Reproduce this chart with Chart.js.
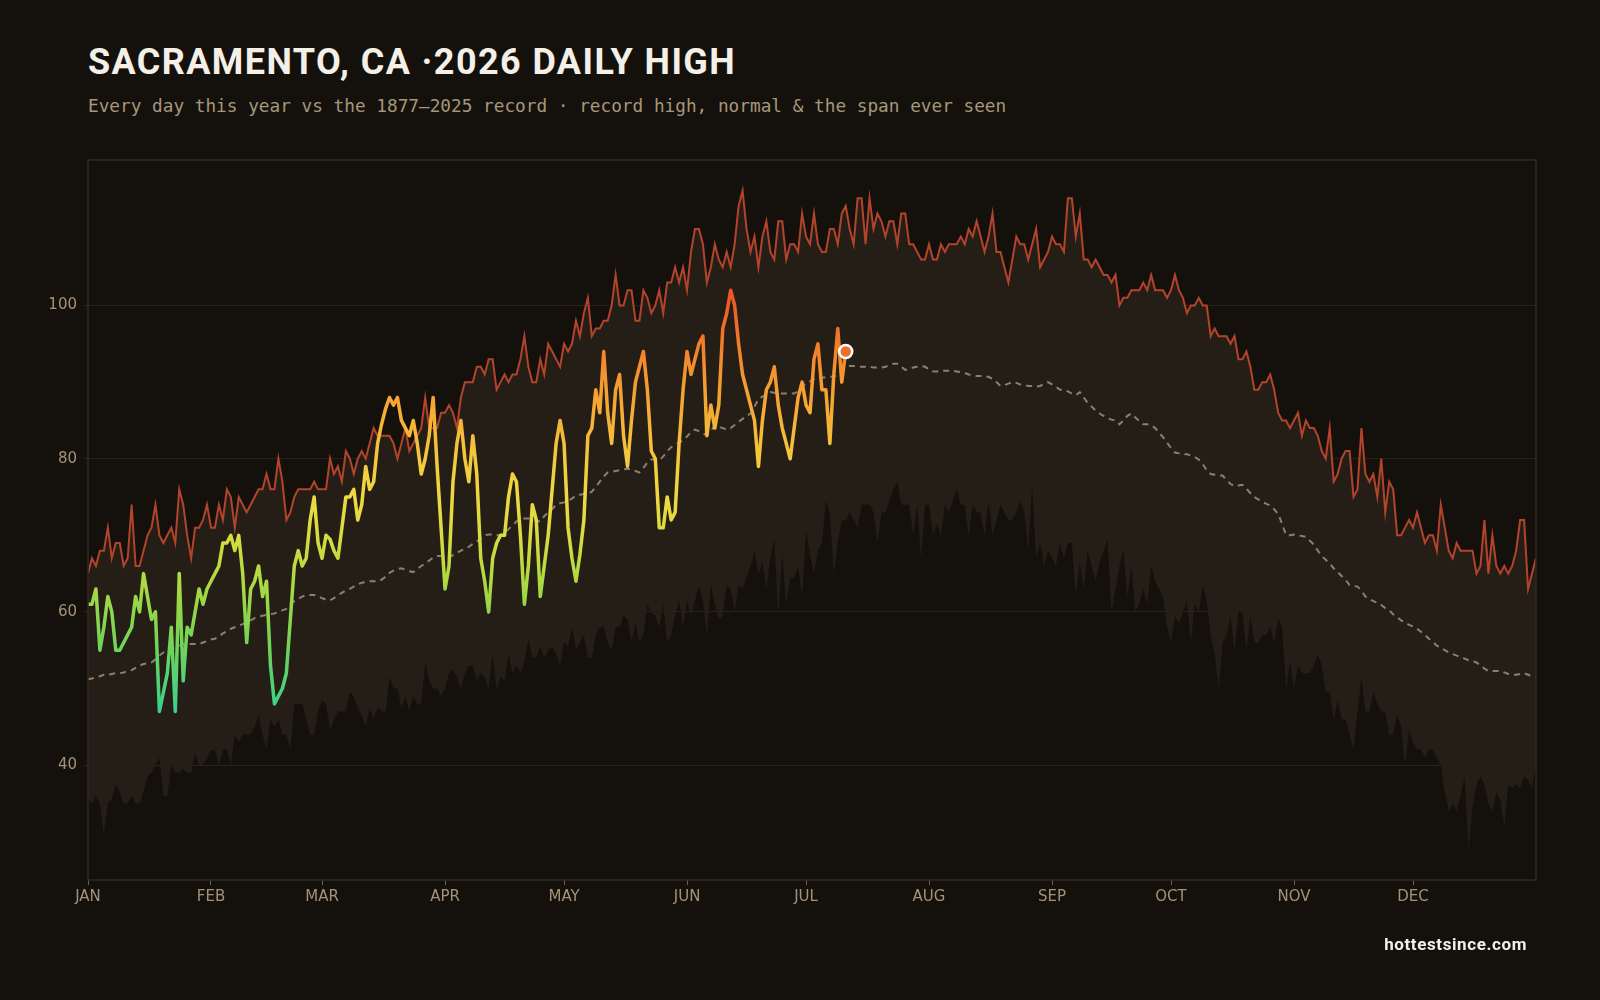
<!DOCTYPE html>
<html>
<head>
<meta charset="utf-8">
<title>Sacramento, CA 2026 daily high</title>
<script src="https://cdn.jsdelivr.net/npm/chart.js@4.4.1/dist/chart.umd.min.js"></script>
<style>
  html, body { margin: 0; padding: 0; background: #14110d; }
  body { width: 1600px; height: 1000px; position: relative; overflow: hidden; }
  #chart { position: absolute; left: 0; top: 0; }
  .title { position: absolute; left: 88px; top: 40px; font: 700 36px Roboto, sans-serif; line-height: 44px;
           letter-spacing: 1.4px; color: #f4f0e8; white-space: nowrap; }
  .sub { position: absolute; left: 88px; top: 96px; font: 17.74px "DejaVu Sans Mono", monospace; line-height: 20px;
         color: #a7977a; white-space: nowrap; }
  .foot { position: absolute; right: 73px; top: 934px; font: 700 17px Roboto, sans-serif; line-height: 20px;
          letter-spacing: 0.6px; color: #f4f0e8; }
</style>
</head>
<body>
<div class="title">SACRAMENTO, CA ·2026 DAILY HIGH</div>
<div class="sub">Every day this year vs the 1877–2025 record · record high, normal &amp; the span ever seen</div>
<canvas id="chart" width="1600" height="1000"></canvas>
<div class="foot">hottestsince.com</div>

<script>
// mois (jour de l'année du 1er)
var monthLabels = ['JAN', 'FEB', 'MAR', 'APR', 'MAY', 'JUN', 'JUL', 'AUG', 'SEP', 'OCT', 'NOV', 'DEC'];
var monthStarts = [0, 31, 59, 90, 120, 151, 181, 212, 243, 273, 304, 334];
var yTicks = [40, 60, 80, 100];

// record high, 1877-2025 (°F), day 0 = Jan 1
var recordHigh = [
  65, 67, 66, 68, 68, 71, 67, 69, 69, 66,
  67, 74, 66, 66, 68, 70, 71, 74, 70, 69,
  70, 71, 69, 76, 74, 70, 67, 71, 71, 72,
  74, 71, 71, 74, 72, 76, 75, 71, 75, 74,
  73, 74, 75, 76, 76, 78, 76, 76, 80, 77,
  72, 73, 75, 76, 76, 76, 76, 77, 76, 76,
  76, 80, 78, 79, 77, 81, 80, 78, 80, 81,
  80, 82, 84, 83, 83, 83, 83, 82, 80, 82,
  84, 81, 82, 83, 84, 88, 84, 84, 84, 86,
  86, 87, 86, 84, 88, 90, 90, 90, 92, 92,
  91, 93, 93, 89, 90, 91, 90, 91, 91, 93,
  96, 92, 90, 90, 93, 91, 95, 94, 93, 92,
  95, 94, 95, 98, 96, 99, 101, 96, 97, 97,
  98, 98, 100, 104, 100, 100, 102, 102, 98, 98,
  102, 101, 99, 100, 102, 99, 103, 103, 105, 103,
  105, 102, 107, 110, 110, 108, 103, 105, 108, 106,
  105, 107, 105, 108, 113, 115, 110, 107, 109, 105,
  109, 111, 107, 106, 111, 111, 106, 108, 108, 107,
  112, 109, 108, 112, 108, 107, 107, 110, 110, 108,
  112, 113, 110, 108, 114, 114, 108, 114, 110, 112,
  111, 109, 111, 111, 108, 112, 112, 108, 108, 107,
  106, 106, 108, 106, 106, 108, 107, 108, 108, 108,
  109, 108, 110, 109, 111, 109, 107, 109, 112, 107,
  107, 105, 103, 106, 109, 108, 108, 106, 108, 110,
  105, 106, 107, 109, 108, 108, 107, 114, 114, 109,
  112, 106, 106, 105, 106, 105, 104, 104, 103, 104,
  100, 101, 101, 102, 102, 102, 103, 102, 104, 102,
  102, 102, 101, 102, 104, 102, 101, 99, 100, 100,
  101, 100, 100, 96, 97, 96, 96, 96, 95, 96,
  93, 93, 94, 92, 89, 89, 90, 90, 91, 89,
  86, 85, 85, 84, 85, 86, 83, 85, 84, 84,
  83, 81, 80, 84, 77, 78, 80, 81, 81, 75,
  76, 84, 78, 77, 78, 75, 80, 73, 77, 76,
  70, 70, 71, 72, 71, 73, 71, 69, 70, 70,
  68, 74, 71, 68, 67, 69, 68, 68, 68, 68,
  65, 66, 72, 65, 70, 66, 65, 66, 65, 66,
  68, 72, 72, 63, 65, 67
];

// record low of the daily high
var recordLow = [
  35.5, 35, 36, 35, 31, 35, 35.5, 37.5, 36.5, 35,
  35, 36, 35, 35, 36.5, 38.5, 39, 40, 41, 36,
  36, 40, 39, 39, 39.5, 39, 39, 41.5, 40, 40,
  41, 42, 42, 40, 42, 42, 40, 44, 43, 44,
  44, 44, 45, 46.5, 44, 42, 46, 45, 46, 44,
  44, 42, 48, 48, 48, 46, 44, 44, 47, 48.5,
  48, 44.5, 46, 47, 47, 47, 49.5, 49, 47.5, 46.5,
  45, 47.5, 46, 47.5, 47, 47, 51.5, 50, 50, 47.5,
  49, 47, 49, 48, 48, 53.5, 51, 50, 50, 49,
  50, 52, 52.5, 51.5, 50, 52, 53, 53, 51, 52,
  51.5, 50, 54.5, 50, 51.5, 51, 54.5, 52, 53, 52,
  53.5, 56.5, 54, 54, 55.5, 54, 55, 55.5, 54.5, 53,
  56, 55.5, 58, 55, 56, 57, 54, 54, 57, 58,
  58, 56, 55, 58, 58, 59.5, 59, 56, 58.5, 56,
  57, 61, 60, 59.5, 58, 61, 56, 57, 59.5, 61.5,
  58, 61.5, 59.5, 61.5, 63.5, 61.5, 57, 63.5, 61, 59,
  59.5, 63.5, 63, 60, 63.5, 63, 64.5, 66, 68, 65,
  66.5, 63, 67, 69.5, 59.5, 67.5, 61, 64.5, 64.5, 66,
  62, 70.5, 67.5, 65, 68, 69, 74.5, 73, 65, 69,
  72, 72, 73, 72, 71, 74, 74, 74, 73, 69,
  73, 73, 74.5, 76, 77, 74, 74, 74, 70, 74,
  67, 74, 74, 70, 71.5, 70, 74, 73, 74.5, 76,
  74, 74, 70, 74, 73, 73, 70, 74.5, 70, 72,
  74, 73, 72, 72, 73, 74.5, 73, 68, 76.5, 67,
  69, 66, 68, 67, 66, 69, 67, 69, 69, 62,
  66.5, 63, 68, 66, 64, 66.5, 68, 69.5, 60, 63,
  66, 68, 62, 66, 60, 61, 63, 61, 66, 64,
  63, 62, 58, 56, 59.5, 58.5, 60, 61.5, 56, 61,
  60, 63.5, 61.5, 57, 54.5, 50, 56, 57, 59.5, 55,
  60, 60, 55, 59.5, 56, 56, 57, 57, 58, 56,
  59, 58, 50, 53.5, 50, 53, 52, 52, 52, 53,
  54.5, 53, 49.5, 49.5, 46, 48.5, 46, 46, 44, 42,
  47, 51.5, 47, 47, 49.5, 48, 47, 47, 44, 44,
  46.5, 45, 40, 44.5, 43, 42, 42, 41, 42, 42,
  41, 40, 36.5, 34, 35, 34, 36, 38.5, 29, 34.5,
  37.5, 38.5, 37.5, 35, 34, 36.5, 35.5, 32, 37.5, 37,
  37.5, 37, 38.5, 38, 37, 40
];

// normal daily high
var normalHigh = [
  51.2, 51.3, 51.5, 51.6, 51.8, 51.8, 51.9, 52.0, 52.0, 52.1,
  52.3, 52.4, 52.7, 53.0, 53.2, 53.3, 53.4, 53.8, 54.3, 54.7,
  54.9, 55.2, 55.4, 55.6, 55.8, 55.8, 55.8, 55.8, 55.8, 56.0,
  56.2, 56.4, 56.5, 56.8, 57.2, 57.5, 57.8, 58.0, 58.2, 58.4,
  58.6, 58.9, 59.2, 59.4, 59.5, 59.6, 59.7, 59.8, 60.0, 60.2,
  60.4, 61.0, 61.4, 61.7, 62.0, 62.2, 62.2, 62.2, 62.0, 61.8,
  61.6, 61.5, 61.8, 62.2, 62.5, 62.8, 63.0, 63.3, 63.6, 63.8,
  63.9, 64.0, 64.0, 64.0, 64.2, 64.6, 65.1, 65.4, 65.6, 65.7,
  65.5, 65.3, 65.2, 65.6, 66.0, 66.3, 66.7, 67.1, 67.3, 67.3,
  67.2, 67.2, 67.4, 67.7, 68.0, 68.2, 68.5, 68.9, 69.2, 69.6,
  70.0, 70.1, 70.1, 70.0, 70.0, 70.4, 70.8, 71.3, 71.8, 72.2,
  72.2, 72.2, 72.1, 71.9, 71.8, 72.5, 73.0, 73.4, 74.0, 74.2,
  74.3, 74.5, 74.8, 75.2, 75.3, 75.4, 75.4, 75.7, 76.3, 77.0,
  77.7, 78.2, 78.3, 78.4, 78.5, 78.6, 78.7, 78.6, 78.4, 78.2,
  78.8, 79.5, 79.9, 79.9, 79.8, 80.3, 81.0, 81.5, 81.8, 82.1,
  82.4, 82.9, 83.5, 83.8, 83.6, 83.3, 83.1, 83.6, 84.4, 84.2,
  84.0, 83.8, 84.0, 84.4, 84.8, 85.2, 85.6, 85.9, 86.8, 87.8,
  88.1, 88.4, 88.7, 88.6, 88.5, 88.5, 88.5, 88.5, 88.5, 88.8,
  89.4, 89.9, 90.1, 90.4, 90.6, 90.6, 90.6, 90.7, 90.7, 91.0,
  91.5, 91.8, 92.1, 92.1, 92.0, 92.0, 92.0, 92.0, 91.9, 91.9,
  91.9, 92.0, 92.2, 92.4, 92.4, 92.0, 91.6, 91.7, 91.9, 92.0,
  92.1, 92.0, 91.7, 91.4, 91.4, 91.5, 91.5, 91.5, 91.5, 91.4,
  91.3, 91.2, 91.0, 90.9, 90.8, 90.8, 90.7, 90.7, 90.4, 90.0,
  89.5, 89.6, 89.8, 90.0, 89.9, 89.7, 89.6, 89.5, 89.5, 89.4,
  89.5, 89.8, 90.0, 89.7, 89.4, 89.0, 89.0, 88.8, 88.5, 88.3,
  88.7, 88.0, 87.3, 86.8, 86.3, 85.9, 85.6, 85.3, 85.1, 85.0,
  84.5, 85.0, 85.6, 85.9, 85.4, 84.9, 84.5, 84.5, 84.4, 84.0,
  83.4, 82.8, 82.1, 81.4, 80.8, 80.7, 80.6, 80.6, 80.4, 80.2,
  79.9, 79.3, 78.5, 78.0, 77.9, 77.8, 77.8, 77.2, 76.7, 76.4,
  76.5, 76.6, 76.1, 75.5, 75.0, 74.7, 74.4, 74.1, 73.9, 73.4,
  72.8, 71.5, 70.0, 70.0, 70.1, 70.0, 69.9, 69.8, 69.3, 68.8,
  68.0, 67.3, 66.8, 66.3, 65.7, 65.2, 64.7, 64.2, 63.5, 63.4,
  63.3, 62.8, 62.0, 61.7, 61.4, 61.2, 60.9, 60.5, 60.2, 59.7,
  59.3, 58.9, 58.6, 58.3, 58.1, 57.8, 57.4, 57.0, 56.5, 56.1,
  55.6, 55.3, 55.0, 54.7, 54.5, 54.3, 54.1, 53.9, 53.7, 53.6,
  53.4, 53.0, 52.6, 52.3, 52.3, 52.3, 52.3, 52.1, 51.9, 51.8,
  51.8, 51.9, 52.0, 51.8, 51.6, 51.5
];

// 2026 so far
var thisYear = [
  61, 61, 63, 55, 58, 62, 60, 55, 55, 56,
  57, 58, 62, 60, 65, 62, 59, 60, 47, 49.5,
  52, 58, 47, 65, 51, 58, 57, 60, 63, 61,
  63, 64, 65, 66, 69, 69, 70, 68, 70, 65,
  56, 63, 64, 66, 62, 64, 53, 48, 49, 50,
  52, 59, 66, 68, 66, 67, 72, 75, 69, 67,
  70, 69.5, 68, 67, 71, 75, 75, 76, 72, 74,
  79, 76, 77, 82, 84.5, 86.5, 88, 87, 88, 85,
  84, 83, 85, 82, 78, 80, 83, 88, 79, 71,
  63, 66, 77, 82, 85, 80, 77, 83, 78, 67,
  64, 60, 67, 69, 70, 70, 75, 78, 77, 70,
  61, 66, 74, 72, 62, 66, 70, 76, 82, 85,
  82, 71, 67, 64, 67.5, 72, 83, 84, 89, 86,
  94, 86, 82, 89, 91, 83, 79, 85, 90, 92,
  94, 89, 81, 80, 71, 71, 75, 72, 73, 82,
  89, 94, 91, 93, 95, 96, 83, 87, 84, 87,
  97, 99, 102, 100, 95, 91, 89, 87, 85, 79,
  85, 89, 90, 92, 87, 84, 82, 80, 84, 88,
  90, 87, 86, 93, 95, 89, 89, 82, 91, 97,
  90, 94
];

// couleurs
var bgBand = '#241e16';
var gridColor = '#2a221b';
var tickText = '#a39277';
var heatStops = [
  [45, '#2fcf95'], [50, '#4cd27c'], [55, '#6cd45c'], [60, '#90d64a'],
  [65, '#b5da40'], [70, '#d8dc3e'], [75, '#efd940'], [80, '#f3c93c'],
  [85, '#f5b235'], [90, '#f59a30'], [95, '#f27d2b'], [100, '#ec5e25'], [105, '#e54a20']
];

function toPoints(arr) {
  return arr.map(function (v, i) { return { x: i, y: v }; });
}

var heatGrad = null;
function heatColor(context) {
  var chart = context.chart;
  if (!chart.chartArea) return '#efd940';
  if (heatGrad) return heatGrad;
  var y = chart.scales.y;
  var lo = y.getPixelForValue(45), hi = y.getPixelForValue(105);
  heatGrad = chart.ctx.createLinearGradient(0, lo, 0, hi);
  heatStops.forEach(function (s) { heatGrad.addColorStop((s[0] - 45) / 60, s[1]); });
  return heatGrad;
}

// cadre du graphique
var plotFrame = {
  id: 'plotFrame',
  afterDatasetsDraw: function (chart) {
    var a = chart.chartArea, c = chart.ctx;
    c.save();
    c.strokeStyle = '#33291f';
    c.lineWidth = 1.5;
    c.strokeRect(a.left, a.top, a.right - a.left, a.bottom - a.top);
    c.restore();
  }
};

var last = thisYear.length - 1;

new Chart(document.getElementById('chart'), {
  type: 'line',
  data: {
    datasets: [{
      label: 'today',
      data: [{ x: last, y: thisYear[last] }],
      showLine: false,
      pointRadius: 6.5,
      pointBackgroundColor: '#ec6f2d',
      pointBorderColor: '#ffffff',
      pointBorderWidth: 2.5,
      order: 0
    }, {
      label: '2026',
      data: toPoints(thisYear),
      borderColor: heatColor,
      borderWidth: 3.5,
      borderJoinStyle: 'round',
      borderCapStyle: 'round',
      pointRadius: 0,
      order: 1
    }, {
      label: 'normal',
      data: toPoints(normalHigh),
      borderColor: 'rgba(165,152,128,0.8)',
      borderWidth: 2,
      borderDash: [6, 5],
      pointRadius: 0,
      order: 2
    }, {
      label: 'record high',
      data: toPoints(recordHigh),
      borderColor: '#b3442b',
      borderWidth: 2,
      pointRadius: 0,
      fill: { target: '+1', above: bgBand, below: bgBand },
      order: 3
    }, {
      label: 'record low',
      data: toPoints(recordLow),
      borderWidth: 0,
      borderColor: 'rgba(0,0,0,0)',
      pointRadius: 0,
      order: 4
    }]
  },
  options: {
    responsive: false,
    animation: false,
    devicePixelRatio: 1,
    layout: { padding: { left: 0, right: 64, top: 160, bottom: 80 } },
    plugins: { legend: { display: false }, tooltip: { enabled: false } },
    scales: {
      x: {
        type: 'linear', min: 0, max: 365,
        afterBuildTicks: function (s) { s.ticks = monthStarts.map(function (v) { return { value: v }; }); },
        afterFit: function (s) { s.height = 40; },
        grid: { drawOnChartArea: false, tickLength: 5, color: '#6e604d' },
        border: { display: false },
        ticks: {
          color: tickText, font: { family: 'DejaVu Sans', size: 15 }, padding: 3,
          maxRotation: 0, autoSkip: false,
          callback: function (v, i) { return monthLabels[i]; }
        }
      },
      y: {
        min: 25, max: 119,
        afterBuildTicks: function (s) { s.ticks = yTicks.map(function (v) { return { value: v }; }); },
        afterFit: function (s) { s.width = 88; },
        grid: { color: gridColor, tickLength: 4 },
        border: { display: false },
        ticks: { color: tickText, font: { family: 'DejaVu Sans', size: 15 }, padding: 7 }
      }
    }
  },
  plugins: [plotFrame]
});
</script>
</body>
</html>
